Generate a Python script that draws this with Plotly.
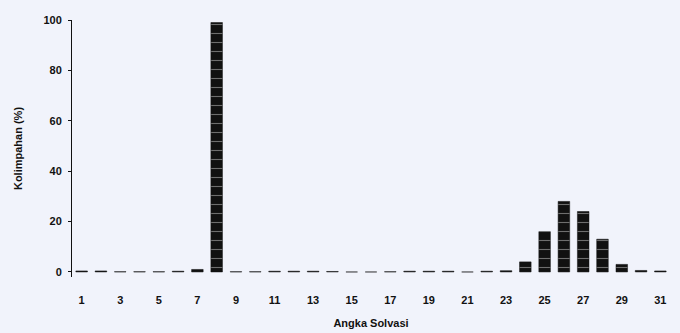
import plotly.graph_objects as go

solvation_number = list(range(1, 32))
abundance = [0.4, 0.4, 0.1, 0.1, 0.1, 0.3, 1.0, 99.0, 0.1, 0.1,
             0.3, 0.3, 0.3, 0.2, 0.0, 0.0, 0.1, 0.3, 0.3, 0.3,
             0.0, 0.3, 0.5, 4.0, 16.0, 28.0, 24.0, 13.0, 3.0, 0.6, 0.4]
x_tick_vals = list(range(1, 32, 2))
y_tick_vals = [0, 20, 40, 60, 80, 100]

fig = go.Figure()
fig.add_trace(go.Bar(
    x=solvation_number, y=abundance,
    width=0.6,
    marker=dict(color="#111111", line=dict(color="#111111", width=0.5),
                pattern=dict(shape="-", fgcolor="#cccccc", bgcolor="#111111",
                             size=9, solidity=0.12)),
))

fig.update_layout(
    width=680, height=333,
    margin=dict(l=72, r=10, t=20, b=56),
    paper_bgcolor="#f1f3fb",
    plot_bgcolor="rgba(0,0,0,0)",
    showlegend=False,
    font=dict(family="Liberation Sans, Arial, sans-serif", size=11, color="#111111"),
)
fig.update_xaxes(
    range=[0.5, 31.5], tickvals=x_tick_vals, ticks="", showgrid=False,
    zeroline=False, showline=False, ticklabelstandoff=15, automargin=False,
    title=dict(text="Angka Solvasi", font=dict(size=11, color="#111111", weight="bold"), standoff=14),
    tickfont=dict(size=11, color="#111111", weight="bold"),
)
fig.update_yaxes(
    range=[-2, 100], tickvals=y_tick_vals, ticks="outside", ticklen=3,
    tickcolor="#111111", showgrid=False, zeroline=False, automargin=False,
    showline=True, linecolor="#111111", linewidth=1, ticklabelstandoff=4,
    title=dict(text="Kolimpahan (%)", font=dict(size=11, color="#111111", weight="bold"), standoff=18),
    tickfont=dict(size=11, color="#111111", weight="bold"),
)

fig.write_html("out.html")
